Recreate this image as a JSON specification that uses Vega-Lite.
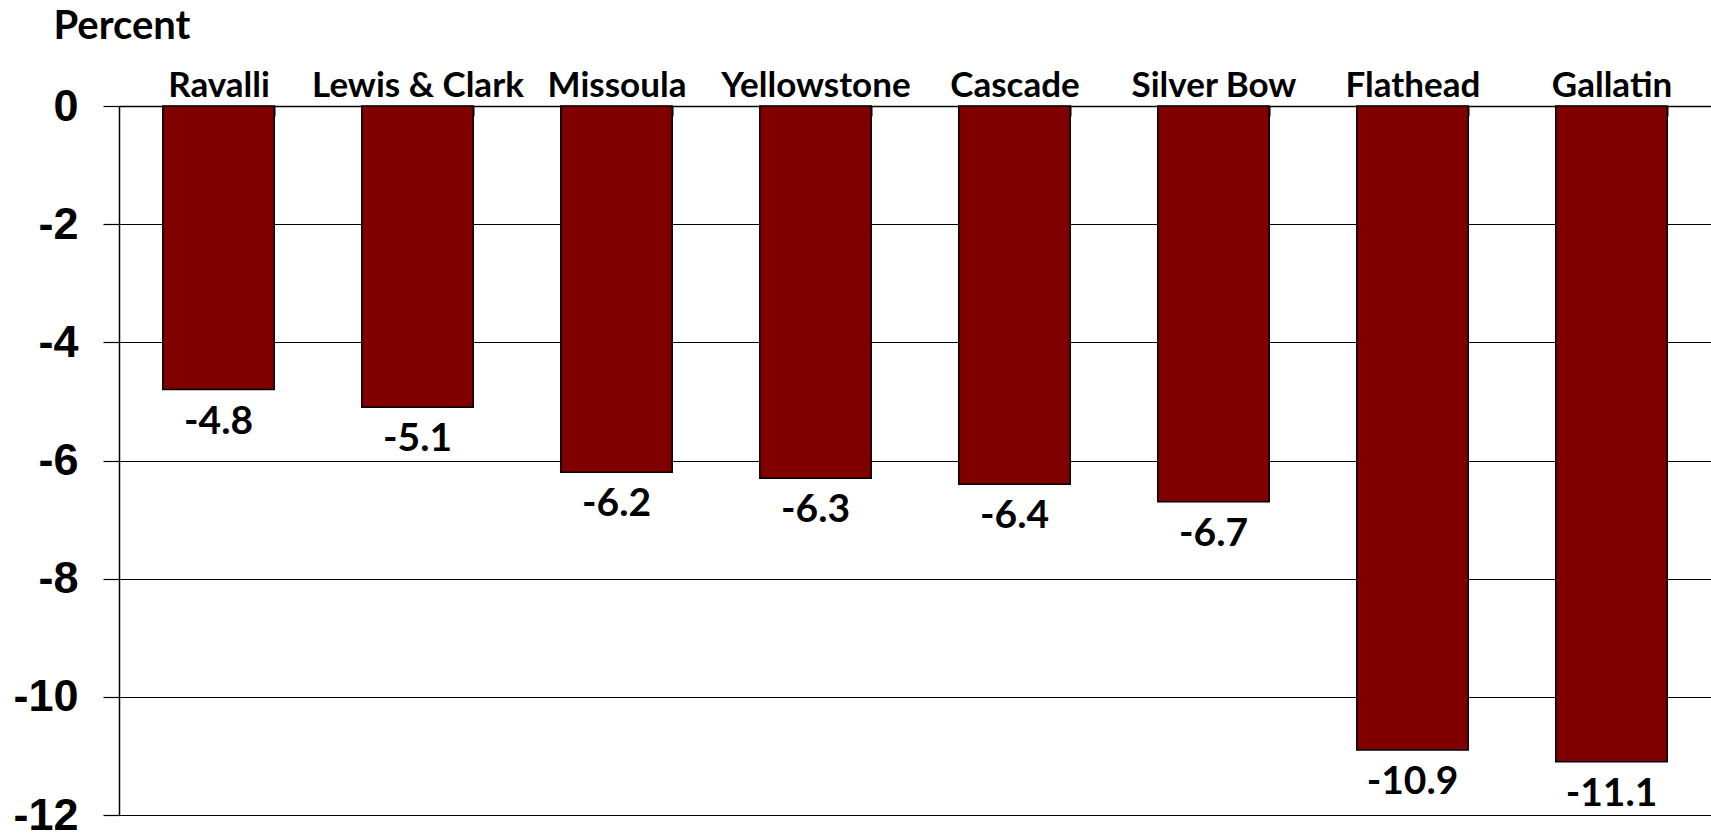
{
  "$schema": "https://vega.github.io/schema/vega-lite/v6.json",
  "width": 1592,
  "height": 709,
  "autosize": {"type": "none"},
  "padding": {"left": 119, "top": 106, "right": 0, "bottom": 18},
  "background": "white",
  "config": {"view": {"stroke": null}},
  "data": {"values": [
    {"county": "Ravalli", "pct": -4.8},
    {"county": "Lewis & Clark", "pct": -5.1},
    {"county": "Missoula", "pct": -6.2},
    {"county": "Yellowstone", "pct": -6.3},
    {"county": "Cascade", "pct": -6.4},
    {"county": "Silver Bow", "pct": -6.7},
    {"county": "Flathead", "pct": -10.9},
    {"county": "Gallatin", "pct": -11.1}
  ]},
  "encoding": {
    "x": {
      "field": "county", "type": "nominal", "sort": null,
      "scale": {"paddingInner": 0.44, "paddingOuter": 0.22},
      "axis": {
        "orient": "top", "title": null, "labelAngle": 0,
        "domainColor": "black", "domainWidth": 1.5,
        "tickBand": "extent", "tickSize": -10, "tickColor": "black", "tickWidth": 2,
        "labelFont": "Lato", "labelFontWeight": "bold", "labelFontSize": 35,
        "labelColor": "black", "labelPadding": 13, "labelLimit": 0, "labelOverlap": false
      }
    },
    "y": {
      "field": "pct", "type": "quantitative",
      "scale": {"domain": [-12, 0], "nice": false},
      "axis": {
        "values": [0, -2, -4, -6, -8, -10, -12],
        "labelExpr": "replace(datum.label, '\u2212', '-')",
        "title": "Percent", "titleAngle": 0, "titleAlign": "left", "titleBaseline": "alphabetic",
        "titleX": -66, "titleY": -68, "titleFont": "Lato", "titleFontWeight": "bold",
        "titleFontSize": 40, "titleColor": "black",
        "domainColor": "black", "domainWidth": 1.5,
        "grid": true, "gridColor": "black", "gridWidth": 1.2,
        "tickSize": 16, "tickColor": "black", "tickWidth": 1.2,
        "labelFont": "Liberation Sans", "labelFontWeight": "bold", "labelFontSize": 45,
        "labelColor": "black", "labelPadding": 25
      }
    }
  },
  "layer": [
    {
      "mark": {"type": "bar", "color": "#800000", "stroke": "black", "strokeWidth": 1.5},
      "encoding": {}
    },
    {
      "mark": {"type": "text", "font": "Lato", "fontWeight": "bold", "fontSize": 39, "color": "black", "baseline": "middle", "dy": 32,
        "text": {"expr": "replace(format(datum.pct, '.1f'), '\u2212', '-')"}},
      "encoding": {}
    }
  ]
}
